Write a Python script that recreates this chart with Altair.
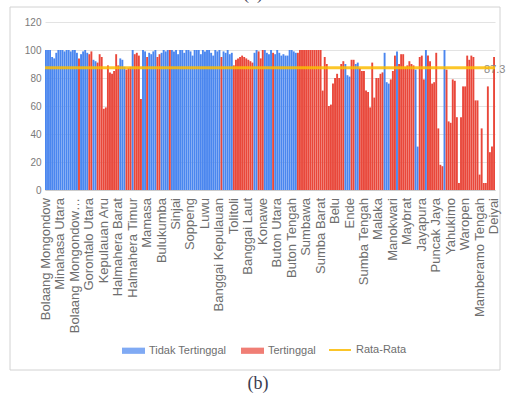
import altair as alt
import pandas as pd

# Index (HDI-style score) per regency, in display order
values = [
    100, 100, 100, 95, 94, 98, 100, 100, 100, 99, 100, 100, 99, 100, 100, 98,
    94,
    97, 99, 100, 98,
    97, 99,
    93, 92,
    91, 97, 95,
    58, 59, 89,
    84, 83, 85,
    97, 89,
    94, 93, 88,
    86, 87, 88,
    100,
    97, 98, 96,
    65,
    100, 99,
    95,
    98, 97, 99, 100,
    95, 97,
    98, 100, 99, 100,
    100,
    100, 99, 100, 97, 100, 100, 98, 100, 100, 99, 96, 100,
    100, 100, 97, 100, 99, 100, 100, 98, 96, 100, 99, 100,
    95,
    99, 98, 100, 97, 98,
    89,
    93, 94, 95, 96, 95, 94, 93, 92, 91,
    98, 100,
    99, 94, 100,
    100, 98, 97, 100,
    98,
    97, 100, 98, 96, 97, 96, 96,
    100, 100, 99, 98,
    98,
    100, 100, 100, 100, 100, 100, 100, 100, 100, 100, 100,
    71,
    95, 90,
    60, 61,
    76, 80,
    83, 80,
    90, 92,
    90,
    82, 81,
    93, 93,
    90, 91,
    87, 85, 85,
    71, 70,
    59,
    91,
    66, 80,
    80, 83, 84,
    98,
    77, 76,
    79, 85,
    96,
    99,
    90, 97, 97,
    88, 89, 92, 90, 89,
    86,
    31,
    95, 96,
    79,
    100,
    96, 92,
    76, 77,
    98,
    44,
    18, 17,
    100,
    86,
    49, 48,
    79, 78,
    52,
    5,
    52,
    74, 74,
    96,
    93,
    96, 95,
    64, 64,
    11,
    44,
    5, 5,
    74,
    27,
    31,
    95,
]

# N = Tidak Tertinggal, T = Tertinggal
status = [
    "N", "N", "N", "N", "N", "N", "N", "N", "N", "N", "N", "N", "N", "N", "N", "N",
    "T",
    "N", "N", "N", "N",
    "T", "T",
    "N", "N",
    "T", "T", "T",
    "T", "T", "T",
    "T", "T", "T",
    "T", "T",
    "N", "N", "N",
    "T", "T", "T",
    "N",
    "T", "T", "T",
    "T",
    "N", "N",
    "T",
    "N", "N", "N", "N",
    "T", "T",
    "N", "N", "N", "N",
    "T",
    "N", "N", "N", "N", "N", "N", "N", "N", "N", "N", "N", "N",
    "N", "N", "N", "N", "N", "N", "N", "N", "N", "N", "N", "N",
    "T",
    "N", "N", "N", "N", "N",
    "T",
    "T", "T", "T", "T", "T", "T", "T", "T", "T",
    "N", "N",
    "T", "T", "T",
    "N", "N", "N", "N",
    "T",
    "N", "N", "N", "N", "N", "N", "N",
    "N", "N", "N", "N",
    "T",
    "T", "T", "T", "T", "T", "T", "T", "T", "T", "T", "T",
    "T",
    "T", "T",
    "T", "T",
    "T", "T",
    "T", "T",
    "T", "T",
    "N",
    "N", "N",
    "T", "T",
    "N", "N",
    "T", "T", "T",
    "T", "T",
    "T",
    "T",
    "T", "T",
    "T", "T", "T",
    "N",
    "N", "N",
    "T", "T",
    "T",
    "N",
    "T", "T", "T",
    "T", "T", "T", "T", "T",
    "N",
    "N",
    "T", "T",
    "T",
    "N",
    "T", "T",
    "T", "T",
    "T",
    "T",
    "T", "T",
    "N",
    "T",
    "T", "T",
    "T", "T",
    "T",
    "T",
    "T",
    "T", "T",
    "T",
    "T",
    "T", "T",
    "T", "T",
    "T",
    "T",
    "T", "T",
    "T",
    "T",
    "T",
    "T",
]

status_names = {"N": "Tidak Tertinggal", "T": "Tertinggal"}

# Every seventh regency is named under the bars
region_labels = [
    "Bolaang Mongondow", "Minahasa Utara", "Bolaang Mongondow…", "Gorontalo Utara",
    "Kepulauan Aru", "Halmahera Barat", "Halmahera Timur", "Mamasa", "Bulukumba",
    "Sinjai", "Soppeng", "Luwu", "Banggai Kepulauan", "Tolitoli", "Banggai Laut",
    "Konawe", "Buton Utara", "Buton Tengah", "Sumbawa", "Sumba Barat", "Belu",
    "Ende", "Sumba Tengah", "Malaka", "Manokwari", "Maybrat", "Jayapura",
    "Puncak Jaya", "Yahukimo", "Waropen", "Mamberamo Tengah", "Deiyai",
]
label_step = 7
average = 87.3

# 1-based position of each regency along the axis
n = len(values)
bars_df = pd.DataFrame({
    "pos": list(range(1, n + 1)),
    "value": values,
    "status": [status_names[s] for s in status],
})
names_df = pd.DataFrame({
    "pos": list(range(1, n + 1, label_step)),
    "name": region_labels,
    "value": [0] * len(region_labels),
})
avg_df = pd.DataFrame({"series": ["Rata-Rata"], "value": [average], "pos": [n]})
frame_df = pd.DataFrame({"k": [0]})

x_axis = alt.Axis(
    labels=False,
    ticks=False,
    domainColor="#cccccc",
    grid=False,
    title=None,
)
x_scale = alt.Scale(paddingInner=0.08, paddingOuter=0)

y_axis = alt.Axis(
    values=[0, 20, 40, 60, 80, 100, 120],
    labelFont="Liberation Sans",
    labelFontSize=10,
    labelColor="#7a7a7a",
    labelPadding=4,
    labelOverlap=False,
    gridColor="#e3e3e3",
    domain=False,
    ticks=False,
    title=None,
)
y_scale = alt.Scale(domain=[0, 120])

x_enc = alt.X("pos:O", scale=x_scale, axis=x_axis)
y_enc = alt.Y("value:Q", scale=y_scale, axis=y_axis)

bars = alt.Chart(bars_df).mark_bar().encode(
    x=x_enc,
    y=y_enc,
    color=alt.Color(
        "status:N",
        scale=alt.Scale(domain=["Tidak Tertinggal", "Tertinggal"], range=["#4a86ef", "#e9473a"]),
        legend=alt.Legend(
            orient="none",
            legendX=76,
            legendY=316,
            direction="horizontal",
            title=None,
            symbolType="M-1,-0.27H1V0.27H-1Z",
            symbolSize=529,
            symbolOpacity=0.7,
            labelFont="Liberation Sans",
            labelFontSize=11,
            labelColor="#6e6e6e",
            labelOffset=3,
            columnPadding=13,
        ),
    ),
)

# Regency names, rotated to read upwards, hanging below the baseline
names = alt.Chart(names_df).mark_text(
    angle=270, align="right", baseline="middle", dx=-8,
    font="Liberation Sans", fontSize=13, color="#6e6e6e",
).encode(
    x=x_enc,
    y=y_enc,
    text="name:N",
)

avg_label = alt.Chart(avg_df).mark_text(
    align="left", baseline="middle", dx=-10, dy=2,
    font="Liberation Sans", fontSize=11, color="#8a8a8a",
).encode(
    x=x_enc,
    y=y_enc,
    text=alt.Text("value:Q", format=".1f"),
)

avg_rule = alt.Chart(avg_df).mark_rule(strokeWidth=3, opacity=0.85).encode(
    y=y_enc,
    stroke=alt.Stroke(
        "series:N",
        scale=alt.Scale(domain=["Rata-Rata"], range=["#fbbc04"]),
        legend=alt.Legend(
            orient="none",
            legendX=283,
            legendY=316,
            direction="horizontal",
            title=None,
            symbolType="stroke",
            symbolSize=484,
            symbolStrokeWidth=2,
            labelFont="Liberation Sans",
            labelFontSize=11,
            labelColor="#6e6e6e",
            labelOffset=4,
        ),
    ),
)

frame = alt.Chart(frame_df).mark_rect(
    fillOpacity=0, stroke="#d2d2d2", strokeWidth=1
).encode(
    x=alt.value(-35), x2=alt.value(455), y=alt.value(-15), y2=alt.value(348)
)

prev_caption = alt.Chart(frame_df).mark_text(
    text="(a)", font="Liberation Serif", fontSize=18, color="#3b3b4f", baseline="alphabetic"
).encode(x=alt.value(208), y=alt.value(-23))

chart = alt.layer(frame, prev_caption, bars, names, avg_label, avg_rule).properties(
    width=450,
    height=168,
    autosize=alt.AutoSizeParams(type="none"),
    padding={"left": 45, "top": 22, "right": 12, "bottom": 211},
    title=alt.TitleParams(
        "(b)", orient="bottom", anchor="middle", offset=4, dx=-12,
        font="Liberation Serif", fontSize=18, fontWeight="normal", color="#3b3b4f",
    ),
    background="white",
).resolve_scale(color="independent").configure_view(stroke=None)

chart.save("out.html", embed_options={"renderer": "svg", "actions": False})
